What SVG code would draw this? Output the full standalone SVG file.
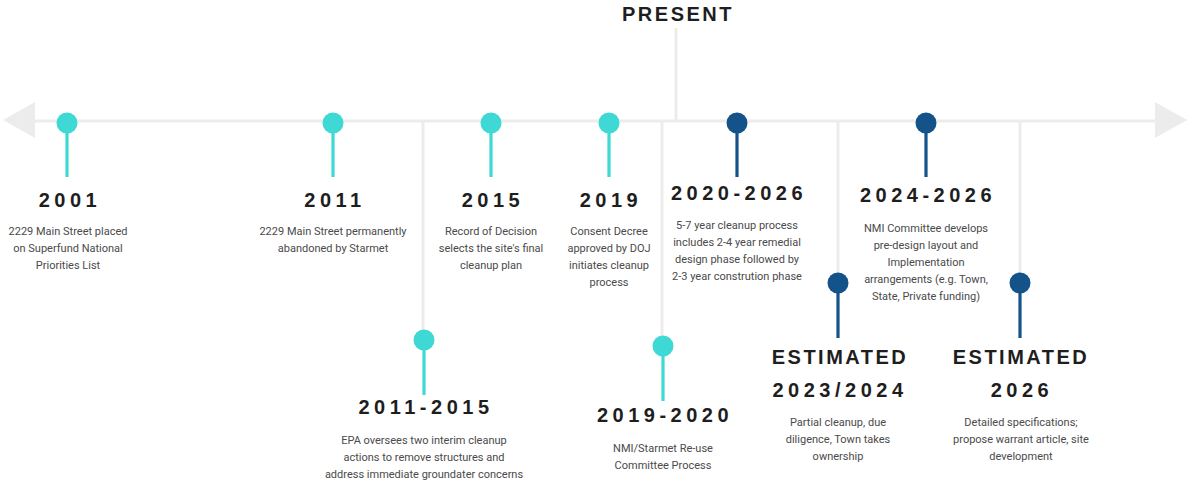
<svg xmlns="http://www.w3.org/2000/svg" width="1187" height="481" viewBox="0 0 1187 481">
<style>
.axis{stroke:#ececec;stroke-width:3;fill:none}
.arrow{fill:#ececec}
.teal{fill:#3ed8d5}
.tstem{stroke:#3ed8d5;stroke-width:3.2}
.blue{fill:#14528a}
.bstem{stroke:#14528a;stroke-width:3.2}
.title{font-family:"Liberation Sans",Arial,sans-serif;font-weight:bold;font-size:20px;letter-spacing:4.5px;fill:#1e1e1e;text-anchor:middle}
.word{letter-spacing:2.5px}
.desc{font-family:Roboto,"Liberation Sans",sans-serif;font-size:11px;fill:#4a4a4a;text-anchor:middle}
</style>
<rect width="1187" height="481" fill="#ffffff"/>
<g id="connectors">
<line class="axis" x1="30" y1="121" x2="1160" y2="121"/>
<polygon class="arrow" points="3,120 35,102 35,138"/>
<polygon class="arrow" points="1187,120 1155,102 1155,138"/>
<line class="axis" x1="676" y1="28" x2="676" y2="121"/>
<line class="axis" x1="423" y1="121" x2="423" y2="332"/>
<line class="axis" x1="662" y1="121" x2="662" y2="338"/>
<line class="axis" x1="838" y1="121" x2="838" y2="276"/>
<line class="axis" x1="1020" y1="121" x2="1020" y2="276"/>
</g>
<g id="present">
<text class="title word" x="678" y="21">PRESENT</text>
</g>
<g id="n2001">
<line class="tstem" x1="67" y1="123" x2="67" y2="177"/>
<circle class="teal" cx="67" cy="123" r="10.5"/>
<text class="title" x="70" y="207">2001</text>
<text class="desc" x="68" y="235">2229 Main Street placed</text>
<text class="desc" x="68" y="252">on Superfund National</text>
<text class="desc" x="68" y="269">Priorities List</text>
</g>
<g id="n2011">
<line class="tstem" x1="333" y1="123" x2="333" y2="177"/>
<circle class="teal" cx="333" cy="123" r="10.5"/>
<text class="title" x="335" y="207">2011</text>
<text class="desc" x="333" y="235">2229 Main Street permanently</text>
<text class="desc" x="333" y="252">abandoned by Starmet</text>
</g>
<g id="n2015">
<line class="tstem" x1="491" y1="123" x2="491" y2="177"/>
<circle class="teal" cx="491" cy="123" r="10.5"/>
<text class="title" x="493" y="207">2015</text>
<text class="desc" x="491" y="235">Record of Decision</text>
<text class="desc" x="491" y="252">selects the site's final</text>
<text class="desc" x="491" y="269">cleanup plan</text>
</g>
<g id="n2019">
<line class="tstem" x1="609" y1="123" x2="609" y2="177"/>
<circle class="teal" cx="609" cy="123" r="10.5"/>
<text class="title" x="611" y="207">2019</text>
<text class="desc" x="609" y="235">Consent Decree</text>
<text class="desc" x="609" y="252">approved by DOJ</text>
<text class="desc" x="609" y="269">initiates cleanup</text>
<text class="desc" x="609" y="286">process</text>
</g>
<g id="n2020-2026">
<line class="bstem" x1="737" y1="123" x2="737" y2="177"/>
<circle class="blue" cx="737" cy="123" r="10.5"/>
<text class="title" x="739" y="200">2020-2026</text>
<text class="desc" x="737" y="229">5-7 year cleanup process</text>
<text class="desc" x="737" y="246">includes 2-4 year remedial</text>
<text class="desc" x="737" y="263">design phase followed by</text>
<text class="desc" x="737" y="280">2-3 year constrution phase</text>
</g>
<g id="n2024-2026">
<line class="bstem" x1="926" y1="123" x2="926" y2="177"/>
<circle class="blue" cx="926" cy="123" r="10.5"/>
<text class="title" x="928" y="202">2024-2026</text>
<text class="desc" x="926" y="232">NMI Committee develops</text>
<text class="desc" x="926" y="249">pre-design layout and</text>
<text class="desc" x="926" y="266">Implementation</text>
<text class="desc" x="926" y="283">arrangements (e.g. Town,</text>
<text class="desc" x="926" y="300">State, Private funding)</text>
</g>
<g id="n2011-2015">
<line class="tstem" x1="424" y1="340" x2="424" y2="395"/>
<circle class="teal" cx="424" cy="340" r="10.5"/>
<text class="title" x="426" y="414">2011-2015</text>
<text class="desc" x="424" y="444">EPA oversees two interim cleanup</text>
<text class="desc" x="424" y="461">actions to remove structures and</text>
<text class="desc" x="424" y="478">address immediate groundater concerns</text>
</g>
<g id="n2019-2020">
<line class="tstem" x1="663" y1="346" x2="663" y2="401"/>
<circle class="teal" cx="663" cy="346" r="10.5"/>
<text class="title" x="665" y="422">2019-2020</text>
<text class="desc" x="663" y="452">NMI/Starmet Re-use</text>
<text class="desc" x="663" y="469">Committee Process</text>
</g>
<g id="est2023">
<line class="bstem" x1="838" y1="283" x2="838" y2="338"/>
<circle class="blue" cx="838" cy="283" r="10.5"/>
<text class="title word" x="840" y="364">ESTIMATED</text>
<text class="title" x="840" y="397">2023/2024</text>
<text class="desc" x="838" y="426">Partial cleanup, due</text>
<text class="desc" x="838" y="443">diligence, Town takes</text>
<text class="desc" x="838" y="460">ownership</text>
</g>
<g id="est2026">
<line class="bstem" x1="1020" y1="283" x2="1020" y2="338"/>
<circle class="blue" cx="1020" cy="283" r="10.5"/>
<text class="title word" x="1021" y="364">ESTIMATED</text>
<text class="title" x="1022" y="397">2026</text>
<text class="desc" x="1021" y="426">Detailed specifications;</text>
<text class="desc" x="1021" y="443">propose warrant article, site</text>
<text class="desc" x="1021" y="460">development</text>
</g>
</svg>
